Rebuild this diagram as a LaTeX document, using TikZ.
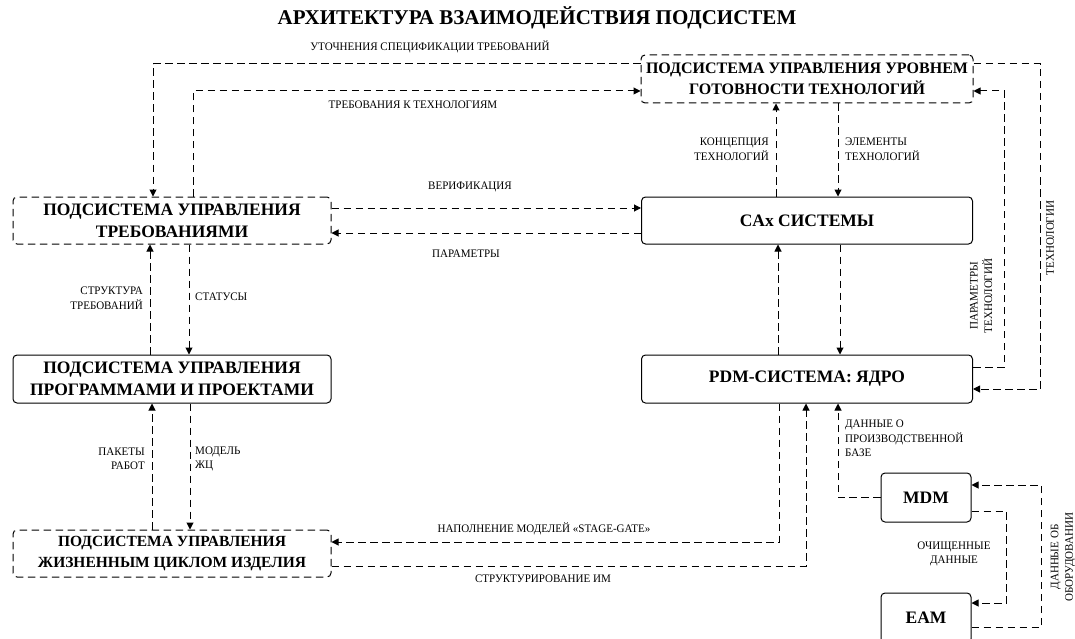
\documentclass[tikz,border=0pt]{standalone}
\usepackage{fontspec}
\setmainfont{Liberation Serif}
\newfontfamily\labfont[FakeStretch=0.96]{Liberation Serif}
\newfontfamily\boxfont{Liberation Serif}
\usetikzlibrary{arrows.meta,calc}
\begin{document}
\begin{tikzpicture}[x=1pt,y=-1pt,
  box/.style={draw, line width=1pt, rounded corners=4pt, align=center, inner sep=0pt,
    font=\boxfont\fontsize{17.5}{22}\selectfont\bfseries},
  dbox/.style={box, dash pattern=on 7.5pt off 4.5pt},
  conn/.style={line width=1pt, dash pattern=on 7.5pt off 4.5pt, -{Triangle[length=7pt,width=7pt]}},
  lab/.style={font=\labfont\fontsize{11.5}{14.5}\selectfont, inner sep=0pt},
]
\useasboundingbox (0,0) rectangle (1075,639);
\clip (0,0) rectangle (1075,639);

% title
\node[font=\fontsize{21}{24}\selectfont\bfseries] (title) at (537,18) {АРХИТЕКТУРА ВЗАИМОДЕЙСТВИЯ ПОДСИСТЕМ};

% boxes
\node[dbox, minimum width=318pt, minimum height=47pt] (req) at (172,220.5) {ПОДСИСТЕМА УПРАВЛЕНИЯ\\ТРЕБОВАНИЯМИ};
\node[box, minimum width=318pt, minimum height=48pt] (prog) at (172,379) {ПОДСИСТЕМА УПРАВЛЕНИЯ\\ПРОГРАММАМИ И ПРОЕКТАМИ};
\node[dbox, minimum width=318pt, minimum height=47pt, font=\boxfont\fontsize{15.5}{21}\selectfont\bfseries] (life) at (172,553.5) {ПОДСИСТЕМА УПРАВЛЕНИЯ\\ЖИЗНЕННЫМ ЦИКЛОМ ИЗДЕЛИЯ};
\node[dbox, minimum width=332pt, minimum height=48pt, font=\boxfont\fontsize{16}{21}\selectfont\bfseries] (trl) at (807,79) {ПОДСИСТЕМА УПРАВЛЕНИЯ УРОВНЕМ\\ГОТОВНОСТИ ТЕХНОЛОГИЙ};
\node[box, minimum width=331pt, minimum height=47pt] (cax) at (807,220.5) {CAx СИСТЕМЫ};
\node[box, minimum width=331pt, minimum height=48pt] (pdm) at (807,379) {PDM-СИСТЕМА: ЯДРО};
\node[box, minimum width=90pt, minimum height=49pt] (mdm) at (926,497.5) {MDM};
\node[box, minimum width=90pt, minimum height=50pt] (eam) at (926,618) {EAM};

% connectors
\draw[conn] (trl.west |- 0,64) -| (req.north -| 153,0);
\node[lab] (l1) at (430,47) {УТОЧНЕНИЯ СПЕЦИФИКАЦИИ ТРЕБОВАНИЙ};

\draw[conn] (req.north -| 193,0) |- (trl.west |- 0,91);
\node[lab] (l2) at (413,105) {ТРЕБОВАНИЯ К ТЕХНОЛОГИЯМ};

\draw[conn] (req.east |- 0,208) -- (cax.west |- 0,208);
\node[lab] (l3) at (470,187) {ВЕРИФИКАЦИЯ};

\draw[conn] (cax.west |- 0,233) -- (req.east |- 0,233);
\node[lab] (l4) at (466,254) {ПАРАМЕТРЫ};

\draw[conn] (cax.north -| 776,0) -- (trl.south -| 776,0);
\node[lab, anchor=east, align=right] (l5) at (769,149) {КОНЦЕПЦИЯ\\ТЕХНОЛОГИЙ};

\draw[conn] (trl.south -| 838,0) -- (cax.north -| 838,0);
\node[lab, anchor=west, align=left] (l6) at (845,149) {ЭЛЕМЕНТЫ\\ТЕХНОЛОГИЙ};

\draw[conn] (pdm.north -| 778,0) -- (cax.south -| 778,0);
\draw[conn] (cax.south -| 840,0) -- (pdm.north -| 840,0);

\draw[conn] (prog.north -| 150,0) -- (req.south -| 150,0);
\node[lab, anchor=east, align=right] (l7) at (143,298) {СТРУКТУРА\\ТРЕБОВАНИЙ};

\draw[conn] (req.south -| 189,0) -- (prog.north -| 189,0);
\node[lab, anchor=west] (l8) at (195,297) {СТАТУСЫ};

\draw[conn] (life.north -| 152,0) -- (prog.south -| 152,0);
\node[lab, anchor=east, align=right] (l9) at (145,459) {ПАКЕТЫ\\РАБОТ};

\draw[conn] (prog.south -| 190,0) -- (life.north -| 190,0);
\node[lab, anchor=west, align=left] (l10) at (195,459) {МОДЕЛЬ\\ЖЦ};

\draw[conn] (pdm.south -| 779,0) |- (life.east |- 0,542);
\node[lab] (l11) at (544,529) {НАПОЛНЕНИЕ МОДЕЛЕЙ «STAGE-GATE»};

\draw[conn] (life.east |- 0,566) -| (pdm.south -| 806,0);
\node[lab] (l12) at (543,579) {СТРУКТУРИРОВАНИЕ ИМ};

\draw[conn] (mdm.west) -| (pdm.south -| 838,0);
\node[lab, anchor=north west, align=left] (l13) at (845,420) {ДАННЫЕ О\\ПРОИЗВОДСТВЕННОЙ\\БАЗЕ};

\draw[conn] (mdm.east |- 0,511) -- ++(35,0) |- (eam.east |- 0,603);
\node[lab, align=center] (l14) at (954,554) {ОЧИЩЕННЫЕ\\ДАННЫЕ};

\draw[conn] (eam.east |- 0,627) -- ++(70,0) |- (mdm.east |- 0,485);
\node[lab, align=center, rotate=90] (l15) at (1063,557) {ДАННЫЕ ОБ\\ОБОРУДОВАНИИ};

\draw[conn] (pdm.east |- 0,367) -- ++(31,0) |- (trl.east |- 0,91);
\node[lab, align=center, rotate=90] (l16) at (981,296) {ПАРАМЕТРЫ\\ТЕХНОЛОГИЙ};

\draw[conn] (trl.east |- 0,64) -- ++(67,0) |- (pdm.east |- 0,389);
\node[lab, rotate=90] (l17) at (1050,238) {ТЕХНОЛОГИИ};
\end{tikzpicture}
\end{document}
